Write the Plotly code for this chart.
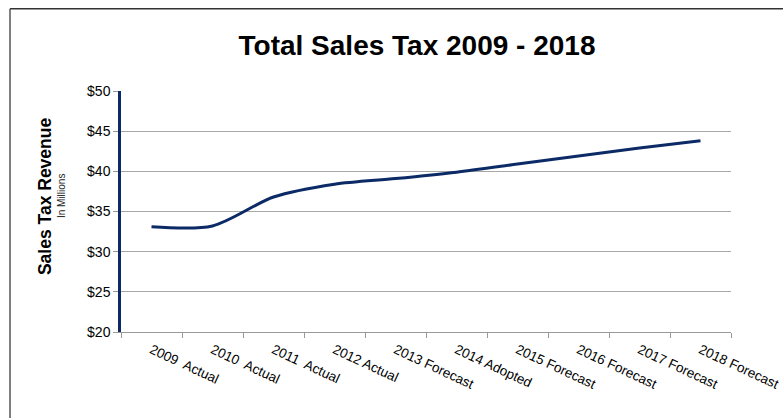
import plotly.graph_objects as go

# Sales tax revenue by fiscal year, in millions of dollars
categories = ["2009\u00a0 Actual", "2010\u00a0 Actual", "2011\u00a0 Actual", "2012 Actual",
              "2013 Forecast", "2014 Adopted", "2015 Forecast", "2016 Forecast",
              "2017 Forecast", "2018 Forecast"]
revenue = [33.1, 33.2, 36.8, 38.4, 39.1, 39.9, 40.9, 41.9, 42.9, 43.8]

y_ticks = [20, 25, 30, 35, 40, 45, 50]

W, H = 783, 418
ML, MR, MT, MB = 121, 52, 90.5, 85.5
PW, PH = W - ML - MR, H - MT - MB

def px_x(px):
    return (px - ML) / PW

def px_y(py):
    return (H - MB - py) / PH

font_family = "Liberation Sans, Arial, sans-serif"
navy = "#0b2a66"

fig = go.Figure()
fig.add_trace(go.Scatter(
    x=categories, y=revenue, mode="lines",
    line=dict(color=navy, width=3, shape="spline", smoothing=0.8),
    hoverinfo="x+y",
))

fig.update_layout(
    width=W, height=H,
    margin=dict(l=ML, r=MR, t=MT, b=MB, autoexpand=False),
    paper_bgcolor="white", plot_bgcolor="white",
    showlegend=False,
    font=dict(family=font_family, size=13, color="black"),
    title=dict(text="<b>Total Sales Tax 2009 - 2018</b>", x=417 / W,
               xanchor="center", y=1 - 45 / H, yanchor="middle",
               font=dict(size=28, color="black", family=font_family)),
    xaxis=dict(
        type="category", tickson="boundaries", ticks="outside", ticklen=5,
        tickcolor="#999999", showline=True, linecolor="#999999", linewidth=1,
        showgrid=False, tickangle=25, tickfont=dict(size=13.5),
        ticklabelstandoff=4,
        range=[-0.5, len(categories) - 0.5], automargin=False,
    ),
    yaxis=dict(
        range=[20, 50], tickvals=y_ticks, ticktext=[f"${v}" for v in y_ticks],
        ticks="outside", ticklen=5, tickcolor="#999999",
        showline=True, linecolor=navy, linewidth=2.5,
        showgrid=True, gridcolor="#a8a8a8", gridwidth=1,
        zeroline=False, tickfont=dict(size=14), automargin=False,
    ),
    annotations=[
        dict(text="<b>Sales Tax Revenue</b>", xref="paper", yref="paper",
             x=px_x(45), y=px_y(196), textangle=-90, showarrow=False,
             xanchor="center", yanchor="middle", font=dict(size=17.5)),
        dict(text="In Millions", xref="paper", yref="paper",
             x=px_x(61), y=px_y(196), textangle=-90, showarrow=False,
             xanchor="center", yanchor="middle", font=dict(size=10, color="#222222")),
    ],
    shapes=[
        dict(type="line", xref="paper", yref="paper",
             x0=px_x(10), y0=px_y(8), x1=px_x(800), y1=px_y(8),
             line=dict(color="#333333", width=1.5)),
        dict(type="line", xref="paper", yref="paper",
             x0=px_x(10), y0=px_y(8), x1=px_x(10), y1=px_y(430),
             line=dict(color="#555555", width=1.5)),
    ],
)

fig.write_html("out.html")
